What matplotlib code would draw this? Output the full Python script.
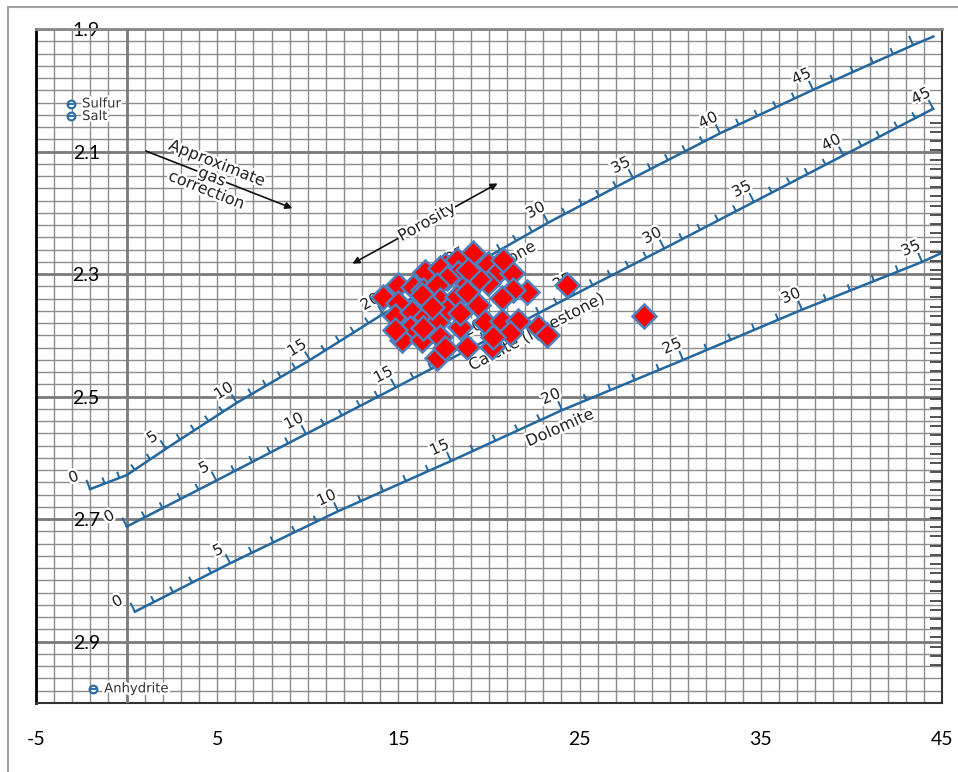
import numpy as np
import matplotlib
matplotlib.use("Agg")
import matplotlib.pyplot as plt
import matplotlib.patheffects as pe
from matplotlib.collections import LineCollection
from matplotlib.patches import Rectangle
from matplotlib.ticker import MultipleLocator

# samples: neutron porosity (limestone units) and bulk density
nphi = [19.12, 17.57, 18.23, 19.94, 20.44, 21.27, 16.47, 17.30, 18.29, 17.68,
        14.98, 15.81, 16.36, 17.13, 18.79, 19.94, 19.45, 22.10, 21.32, 14.15,
        14.98, 17.30, 18.23, 19.39, 20.72, 18.84, 18.79, 16.30, 14.81, 15.75,
        16.47, 17.68, 15.64, 17.13, 18.40, 19.78, 20.72, 21.60, 15.20, 16.30,
        17.30, 18.79, 20.17, 21.16, 22.70, 23.20, 17.13, 17.57, 24.30, 28.55,
        16.36, 18.40, 14.81, 20.77, 20.22, 16.84]
rhob = [2.265, 2.285, 2.277, 2.283, 2.298, 2.298, 2.296, 2.290, 2.298, 2.306,
        2.318, 2.321, 2.326, 2.318, 2.316, 2.314, 2.308, 2.329, 2.326, 2.337,
        2.347, 2.342, 2.337, 2.350, 2.339, 2.293, 2.329, 2.334, 2.368, 2.362,
        2.370, 2.358, 2.388, 2.378, 2.386, 2.378, 2.376, 2.376, 2.407, 2.407,
        2.403, 2.419, 2.419, 2.396, 2.386, 2.399, 2.437, 2.421, 2.318, 2.368,
        2.388, 2.363, 2.391, 2.277, 2.403, 2.353]

# lithology lines of the chart: porosity at each vertex and its place on the chart
sand_phi = [0, 2.5, 5, 10, 15, 20, 25, 30, 35, 40, 45, 50, 50.9]
sand_x = [-2.02, 0.01, 2.17, 6.08, 10.12, 14.15, 18.84, 23.26, 27.95, 32.75, 37.88, 43.40, 44.52]
sand_y = [2.651, 2.628, 2.585, 2.510, 2.440, 2.365, 2.290, 2.216, 2.143, 2.070, 1.999, 1.926, 1.912]

lime_phi = [0, 5, 10, 15, 20, 25, 30, 35, 40, 45]
lime_x = [0.01, 4.95, 9.90, 14.84, 19.78, 24.73, 29.67, 34.62, 39.56, 44.51]
lime_y = [2.712, 2.637, 2.561, 2.485, 2.409, 2.333, 2.258, 2.182, 2.106, 2.030]

dolo_phi = [0, 5, 10, 15, 20, 25, 30, 35, 35.8]
dolo_x = [0.46, 5.71, 11.67, 17.90, 24.03, 30.71, 37.27, 43.90, 45.0]
dolo_y = [2.851, 2.772, 2.687, 2.605, 2.522, 2.440, 2.358, 2.280, 2.265]

minerals = ["Sulfur", "Salt", "Anhydrite"]
mineral_x = [-3.07, -3.07, -1.85]
mineral_y = [2.022, 2.0425, 2.977]

x_ticks = [-5, 5, 15, 25, 35, 45]
y_ticks = [1.9, 2.1, 2.3, 2.5, 2.7, 2.9]

BLUE = "#22679f"
halo = [pe.withStroke(linewidth=3.5, foreground="white")]

fig = plt.figure(figsize=(9.58, 7.72), dpi=100)
ax = fig.add_axes([36 / 958, 1 - 702.95 / 772, 906 / 958, 673.75 / 772])
ax.set_xlim(-5, 45)
ax.set_ylim(3.0, 1.9)

ax.set_xticks(x_ticks)
ax.set_xticklabels([str(v) for v in x_ticks], fontfamily="Lato", fontsize=14)
ax.set_yticks(y_ticks)
ax.set_yticklabels([f"{v:.1f}" for v in y_ticks], fontfamily="Lato", fontsize=14)
ax.xaxis.set_minor_locator(MultipleLocator(1))
ax.yaxis.set_minor_locator(MultipleLocator(0.02))
ax.grid(which="minor", color="#8c8c8c", lw=1.0)
ax.grid(which="major", axis="x", color="#8c8c8c", lw=1.0)
ax.grid(which="major", axis="y", color="#7a7a7a", lw=2.0)
ax.axvline(0, color="#7a7a7a", lw=2.0, zorder=2.6)
ax.tick_params(which="both", length=0)
ax.tick_params(axis="y", pad=-46)
ax.tick_params(axis="x", pad=20)

ax.spines["left"].set_color("black")
ax.spines["left"].set_linewidth(2)
ax.spines["top"].set_color("#8a8a8a")
ax.spines["top"].set_linewidth(2)
for s in ["bottom", "right"]:
    ax.spines[s].set_color("#333333")
    ax.spines[s].set_linewidth(1.5)

# inner scale marks along the right edge of the chart
ax2 = ax.twinx()
ax2.set_ylim(3.0, 1.9)
ax2.set_yticks(np.arange(2.053, 2.94, 0.015))
ax2.tick_params(axis="y", direction="in", length=9, width=1.2, colors="#333333", labelright=False)
for s in ax2.spines.values():
    s.set_visible(False)

inv = ax.transData.inverted()


def scale_line(phi_v, x_v, y_v, label_vals):
    ax.plot(x_v, y_v, color=BLUE, lw=1.8, zorder=3)
    steps = np.arange(np.ceil(phi_v[0]), np.floor(phi_v[-1]) + 1)

    def at(p):
        return ax.transData.transform(np.column_stack([np.interp(p, phi_v, x_v), np.interp(p, phi_v, y_v)]))

    pts = at(steps)
    tan = at(steps + 0.5) - at(steps - 0.5)
    tan /= np.linalg.norm(tan, axis=1)[:, None]
    nrm = np.column_stack([-tan[:, 1], tan[:, 0]])
    segs = []
    for p, n, s in zip(pts, nrm, steps):
        ln = 10 if s % 5 == 0 else 6.5
        segs.append(inv.transform(np.array([p, p + n * ln])))
    ax.add_collection(LineCollection(segs, colors=BLUE, lw=1.4, zorder=3))
    for v in label_vals:
        i = int(np.where(steps == v)[0][0])
        back = 11 if v == 0 else 5
        x, y = inv.transform(pts[i] + nrm[i] * 17 - tan[i] * back)
        ang = np.degrees(np.arctan2(tan[i, 1], tan[i, 0]))
        ax.text(x, y, str(v), rotation=ang, rotation_mode="anchor", ha="center", va="center",
                fontsize=11, color="#222222", path_effects=halo, zorder=4)


def line_angle(x_v, y_v, x0):
    a = ax.transData.transform([x0 - 1, np.interp(x0 - 1, x_v, y_v)])
    b = ax.transData.transform([x0 + 1, np.interp(x0 + 1, x_v, y_v)])
    return np.degrees(np.arctan2(b[1] - a[1], b[0] - a[0]))


scale_line(sand_phi, sand_x, sand_y, list(range(0, 50, 5)))
scale_line(lime_phi, lime_x, lime_y, list(range(0, 50, 5)))
scale_line(dolo_phi, dolo_x, dolo_y, list(range(0, 40, 5)))

txt = dict(ha="center", va="center", rotation_mode="anchor", fontsize=11.5,
           color="#222222", path_effects=halo, zorder=4)
ax.text(20.50, 2.2866, "Sandstone", rotation=line_angle(sand_x, sand_y, 20.5), **txt)
ax.text(22.65, 2.3944, "Calcite (limestone)", rotation=line_angle(lime_x, lime_y, 22.65), **txt)
ax.text(23.92, 2.5511, "Dolomite", rotation=line_angle(dolo_x, dolo_y, 23.92), **txt)

# porosity direction arrow
ax.annotate("", xy=(12.33, 2.285), xytext=(20.61, 2.1495),
            arrowprops=dict(arrowstyle="<|-|>", color="#111111", lw=1.2, mutation_scale=10), zorder=4)
ax.text(16.58, 2.2151, "Porosity", rotation=29, **txt)

# gas correction arrow
ax.annotate("", xy=(9.29, 2.194), xytext=(0.92, 2.0972),
            arrowprops=dict(arrowstyle="-|>", color="#111111", lw=1.2, mutation_scale=10), zorder=4)
ax.text(4.71, 2.1413, "Approximate\ngas\ncorrection", rotation=-21.5, linespacing=0.95,
        multialignment="center", **txt)

# mineral points
for name, mx, my in zip(minerals, mineral_x, mineral_y):
    ax.plot(mx, my, "o", ms=5.5, mfc="white", mec="#2e6da4", mew=1.6, zorder=4)
    ax.plot(mx, my, "_", ms=4, mec="#2e6da4", mew=1.4, zorder=4)
    ax.annotate(name, (mx, my), xytext=(8, 0), textcoords="offset points", va="center",
                fontsize=9.5, color="#333333", path_effects=halo, zorder=4)

ax.plot(nphi, rhob, "D", ms=12, mfc="red", mec="#4f81bd", mew=1.8, ls="none", zorder=6)

fig.patches.append(Rectangle((8 / 958, -0.1), 1.2, 1 - 7 / 772 + 0.1, transform=fig.transFigure,
                             fill=False, ec="#a0a0a0", lw=1.5))

fig.savefig("out.png", dpi=100)
